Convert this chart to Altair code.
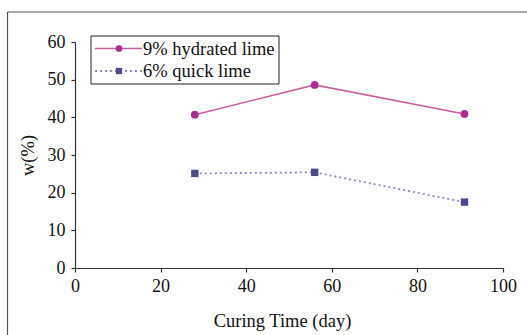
import altair as alt
import pandas as pd

days = [28, 56, 91]
hydrated = [40.7, 48.6, 40.9]
quick = [25.1, 25.4, 17.5]
series_names = ["9% hydrated lime", "6% quick lime"]

df_h = pd.DataFrame({"day": days, "w": hydrated, "series": series_names[0]})
df_q = pd.DataFrame({"day": days, "w": quick, "series": series_names[1]})

FONT = "Liberation Serif"

x_enc = alt.X("day:Q", scale=alt.Scale(domain=[0, 100], nice=False),
              axis=alt.Axis(title="Curing Time (day)", values=[0, 20, 40, 60, 80, 100],
                            grid=False, tickSize=4, labelPadding=5, titlePadding=16,
                            titleX=207, labelOverlap=False, labelFlush=False,
                            labelFont=FONT, titleFont=FONT))
y_enc = alt.Y("w:Q", scale=alt.Scale(domain=[0, 60], nice=False),
              axis=alt.Axis(title="w(%)", values=[0, 10, 20, 30, 40, 50, 60],
                            grid=False, tickSize=4, labelPadding=6, titlePadding=10,
                            labelOverlap=False, labelFlush=False,
                            labelFont=FONT, titleFont=FONT))

line_h = alt.Chart(df_h).mark_line(color="#C8609F", strokeWidth=1.6).encode(x=x_enc, y=y_enc)
pts_h = alt.Chart(df_h).mark_point(shape="circle", filled=True, color="#A82F8F", size=60, opacity=1).encode(x=x_enc, y=y_enc)
line_q = alt.Chart(df_q).mark_line(color="#8F88C0", strokeWidth=1.8, strokeDash=[2, 3]).encode(x=x_enc, y=y_enc)
pts_q = alt.Chart(df_q).mark_point(shape="square", filled=True, color="#4C4A8C", size=55, opacity=1).encode(x=x_enc, y=y_enc)

one = pd.DataFrame({"a": [0]})

# legend
leg_box = alt.Chart(one).mark_rect(fill="white", stroke="#222", strokeWidth=1).encode(
    x=alt.value(16), x2=alt.value(204), y=alt.value(-6), y2=alt.value(42))
leg_line1 = alt.Chart(one).mark_rule(color="#C8609F", strokeWidth=1.6).encode(
    x=alt.value(20), x2=alt.value(67), y=alt.value(6.5))
leg_line2 = alt.Chart(one).mark_rule(color="#8F88C0", strokeWidth=1.8, strokeDash=[2, 3]).encode(
    x=alt.value(20), x2=alt.value(67), y=alt.value(29))
leg_pt1 = alt.Chart(one).mark_point(shape="circle", filled=True, color="#A82F8F", size=45, opacity=1).encode(
    x=alt.value(44), y=alt.value(6.5))
leg_pt2 = alt.Chart(one).mark_point(shape="square", filled=True, color="#4C4A8C", size=40, opacity=1).encode(
    x=alt.value(44), y=alt.value(29))
leg_txt1 = alt.Chart(pd.DataFrame({"t": [series_names[0]]})).mark_text(align="left", baseline="middle", font=FONT, fontSize=18.5, color="#111").encode(
    x=alt.value(68), y=alt.value(6.5), text="t:N")
leg_txt2 = alt.Chart(pd.DataFrame({"t": [series_names[1]]})).mark_text(align="left", baseline="middle", font=FONT, fontSize=18.5, color="#111").encode(
    x=alt.value(68), y=alt.value(29), text="t:N")

# outer frame
frame_left = alt.Chart(one).mark_rule(color="#555", strokeWidth=1.2).encode(
    x=alt.value(-67.5), y=alt.value(-30), y2=alt.value(300))
frame_top = alt.Chart(one).mark_rule(color="#555", strokeWidth=1.2).encode(
    x=alt.value(-67.5), x2=alt.value(460), y=alt.value(-30))

chart = alt.layer(
    line_h, line_q, pts_h, pts_q,
    frame_left, frame_top,
    leg_box, leg_line1, leg_line2, leg_pt1, leg_pt2, leg_txt1, leg_txt2,
).properties(
    width=428, height=226,
    padding={"left": 75, "top": 42, "right": 24, "bottom": 67},
    autosize="none",
    background="white",
).configure_view(stroke=None).configure_axis(
    labelFont=FONT, titleFont=FONT, labelFontSize=18, titleFontSize=18.5,
    titleFontWeight="normal", labelColor="#111", titleColor="#111",
    domainColor="#333", tickColor="#333", domainWidth=1.2, tickWidth=1.2,
)

chart.save("out.html", embed_options={"renderer": "svg", "actions": False})
